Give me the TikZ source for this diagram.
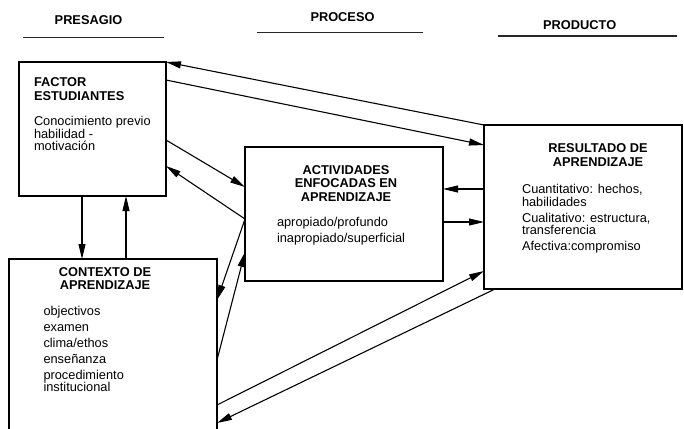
\documentclass[tikz,border=0pt]{standalone}
\usepackage{fontspec}
\setmainfont{Liberation Sans}
\usetikzlibrary{
    positioning,
    arrows.meta
}
\tikzset{%
    diagram box/.style={%
        rectangle,
        draw,
        line width=1.5pt,
        inner sep = 0pt,
        outer sep = 0pt
    },
    box title/.style={%
        font=\fontsize{12.8}{13.3}\selectfont\bfseries,
        inner sep = 0pt,
        outer sep = 0pt
    },
    box text/.style={%
        font=\fontsize{12.8}{12.5}\selectfont,
        align=left,
        inner sep = 0pt,
        outer sep = 0pt
    },
    flow arrow/.style={%
        line width=1.1pt,
        -{Triangle[length=15pt,width=7pt]}
    },
    column rule/.style={%
        line width=1.6pt,
        draw=black!85
    },
}

\begin{document}
\begin{tikzpicture}[x=1pt, y=-1pt]
    \useasboundingbox (0,0) rectangle (684,428);
    \clip (0,0) rectangle (684,428);

    % column headings
    \node[box title, anchor=base] (presagio) at (88.5,25) {PRESAGIO};
    \node[box title, anchor=base] (proceso) at (342.5,21.7) {PROCESO};
    \node[box title, anchor=base] (producto) at (579.7,30) {PRODUCTO};
    \draw[column rule] (23,37.5) -- (163.5,37.5);
    \draw[column rule] (257,32.5) -- (423,32.5);
    \draw[column rule] (498,36) -- (677,36);

    % boxes
    \node[diagram box, minimum width=147pt, minimum height=134pt] (fac) at (92.5,129) {};
    \node[diagram box, minimum width=198pt, minimum height=134pt] (act) at (344,214) {};
    \node[diagram box, minimum width=198pt, minimum height=164pt] (res) at (583,207) {};
    \node[diagram box, minimum width=208pt, minimum height=190pt] (ctx) at (113,354) {};

    % texts (base = last line)
    \node[box title, align=left, anchor=base west] (facT) at (34,100) {FACTOR\\ESTUDIANTES};
    \node[box text, anchor=base west] (facB) at (34,150.7) {Conocimiento previo\\habilidad -\\motivación};

    \node[box title, align=center, anchor=base] (actT) at (346,201) {ACTIVIDADES\\ENFOCADAS EN\\APRENDIZAJE};
    \node[box text, anchor=base west] (actB) at (277,242) {apropiado/profundo\\[3.5pt]inapropiado/superficial};

    \node[box title, align=center, anchor=base] (resT) at (598,166) {RESULTADO DE\\APRENDIZAJE};
    \node[box text, anchor=base west] (resB) at (522,250.5) {Cuantitativo: hechos,\\habilidades\\[3.5pt]Cualitativo: estructura,\\transferencia\\[3.5pt]Afectiva:compromiso};

    \node[box title, align=center, anchor=base] (ctxT) at (105,289.3) {CONTEXTO DE\\APRENDIZAJE};
    \node[box text, anchor=base west] (ctxB) at (43.5,391.5) {objectivos\\[3.5pt]examen\\[3.5pt]clima/ethos\\[3.5pt]enseñanza\\[3.5pt]procedimiento\\institucional};

    % arrows
    \draw[flow arrow] (res.north west) -- (fac.north east);
    \draw[flow arrow] ([yshift=-18pt]fac.north east) -- ([yshift=-20pt]res.north west);
    \draw[flow arrow] ([yshift=-78pt]fac.north east) -- ([yshift=-40pt]act.north west);
    \draw[flow arrow] ([yshift=-72pt]act.north west) -- ([yshift=-104pt]fac.north east);
    \draw[flow arrow] ([yshift=-72pt]act.north west) -- ([yshift=-41pt]ctx.north east);
    \draw[flow arrow] ([yshift=-101pt]ctx.north east) -- ([yshift=-105pt]act.north west);
    \draw[flow arrow] ([xshift=63pt]fac.south west) -- ([xshift=63pt]fac.south west |- ctx.north);
    \draw[flow arrow] ([xshift=117pt]ctx.north west) -- ([xshift=117pt]ctx.north west |- fac.south);
    \draw[flow arrow] ([yshift=-64pt]res.north west) -- ([yshift=-42pt]act.north east);
    \draw[flow arrow] ([yshift=-75pt]act.north east) -- ([yshift=-97pt]res.north west);
    \draw[flow arrow] ([yshift=-146pt]ctx.north east) -- ([yshift=-146pt]res.north west);
    \draw[flow arrow] ([xshift=11pt]res.south west) -- ([yshift=-164pt]ctx.north east);
\end{tikzpicture}
\end{document}
